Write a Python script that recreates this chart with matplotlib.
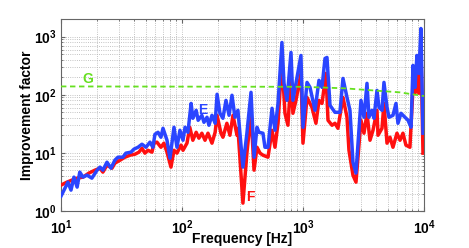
import numpy as np
import matplotlib
matplotlib.use("Agg")
import matplotlib.pyplot as plt

# curve E (blue)
freq_e = [10.0, 10.8, 11.4, 12.1, 12.8, 13.6, 14.3, 15.2, 16.4, 18.0,
          19.9, 21.0, 22.2, 24.0, 25.9, 27.9, 29.6, 32.5, 34.4, 37.9,
          40.1, 43.3, 46.7, 50.4, 54.4, 57.5, 59.8, 63.4, 67.0, 69.7,
          75.2, 79.6, 85.9, 90.9, 96.2, 102, 106, 112, 119, 123,
          131, 136, 146, 152, 161, 167, 177, 188, 195, 206,
          218, 231, 245, 259, 274, 290, 319, 344, 372, 394,
          417, 433, 467, 485, 514, 555, 587, 622, 670, 697,
          738, 796, 826, 875, 962, 1000, 1080, 1143, 1257, 1356,
          1436, 1521, 1579, 1672, 1838, 2021, 2141, 2311, 2445, 2589,
          2742, 3015, 3192, 3381, 3510, 3717, 3861, 4090, 4247, 4498,
          4670, 4948, 5136, 5543, 5871, 6096, 6457, 6969, 7381, 7818,
          8117, 8428, 8750, 9086, 9434, 9815]
imp_e = [1.8, 2.48, 3.14, 2.29, 3.83, 2.58, 4.67, 3.83, 4.14, 3.68,
         5.05, 5.69, 5.05, 6.92, 5.46, 7.5, 8.44, 8.44, 9.9, 10.3,
         11.6, 12.5, 14.1, 12.5, 15.3, 12.5, 20.9, 22.6, 18.6, 26.5,
         16.5, 8.1, 27.6, 12.5, 24.5, 16.5, 27.6, 22.6, 71, 39.4,
         54, 36.4, 44.3, 33.6, 41, 29.9, 44.3, 32.3, 102, 48,
         39.4, 80, 44.3, 98, 41, 54, 5.69, 21.8, 110, 8.44,
         27.6, 22.6, 21.8, 12.5, 12.5, 58.5, 24.5, 71, 792, 157,
         80, 534, 80, 157, 474, 27.6, 163, 134, 54, 177,
         134, 421, 438, 65.8, 49.9, 49.9, 191, 90, 54, 6.92,
         4.49, 80, 41, 157, 41, 54, 39.4, 119, 60.8, 54,
         163, 60.8, 41, 44.3, 71, 32.3, 48, 41, 36.4, 27.6,
         319, 134, 474, 233, 1377, 21.8]

# curve F (red)
freq_f = [10.0, 11.2, 12.3, 13.6, 15.2, 17.0, 19.1, 21.0, 22.2, 24.0,
          26.4, 27.9, 30.8, 33.8, 37.2, 40.9, 44.1, 46.7, 49.4, 52.3,
          56.5, 58.7, 62.1, 67.0, 70.9, 75.2, 81.1, 85.9, 90.9, 98.2,
          102, 110, 116, 123, 131, 138, 146, 155, 164, 177,
          188, 195, 210, 218, 235, 249, 264, 285, 290, 319,
          344, 372, 394, 417, 442, 467, 514, 555, 587, 622,
          670, 710, 751, 796, 826, 875, 962, 1000, 1080, 1186,
          1280, 1356, 1436, 1549, 1610, 1738, 1838, 1945, 2141, 2311,
          2399, 2589, 2742, 3015, 3192, 3381, 3580, 3790, 4090, 4169,
          4498, 4670, 4948, 5236, 5543, 5980, 6339, 6702, 7096, 7653,
          8117, 8428, 8750, 9086, 9434, 9815]
imp_f = [2.79, 3.14, 3.4, 3.68, 3.83, 4.49, 5.05, 5.46, 4.67, 6.15,
         5.46, 6.66, 7.5, 8.44, 9.13, 9.5, 10.3, 12.0, 9.9, 11.1,
         10.3, 14.7, 15.3, 12.5, 14.7, 10.3, 5.69, 11.1, 9.9, 13.6,
         11.1, 14.7, 27.6, 16.5, 22.6, 17.9, 21.8, 16.5, 21.8, 14.7,
         22.6, 44.3, 21.8, 18.6, 32.3, 20.1, 44.3, 20.1, 26.5, 1.37,
         9.9, 48, 5.05, 12.5, 9.9, 9.13, 8.44, 24.5, 12.5, 32.3,
         389, 48, 29.9, 199, 48, 80, 233, 14.7, 90, 60.8,
         32.3, 80, 71, 233, 36.4, 29.9, 32.3, 26.5, 90, 41,
         11.1, 4.14, 3.14, 36.4, 21.8, 48, 16.5, 24.5, 54, 20.1,
         26.5, 71, 14.7, 18.6, 12.5, 21.8, 16.5, 21.8, 13.6, 12.5,
         134, 106, 262, 106, 704, 9.9]

# reference line G (green dashed)
freq_g = [10, 1000, 2200, 6300, 10000]
imp_g = [139, 137, 129, 110, 95]

plt.rcParams['font.family'] = ['Liberation Sans', 'DejaVu Sans']
plt.rcParams['font.weight'] = 'bold'

fig = plt.figure(figsize=(4.69, 2.48), dpi=100)
ax = fig.add_axes([0.130, 0.149, 0.774, 0.774])

ax.plot(freq_f, imp_f, color='#ff1010', lw=2.5, zorder=3)
ax.plot(freq_e, imp_e, color='#2a45ff', lw=2.5, zorder=4)
ax.plot(freq_g, imp_g, color='#66e020', lw=1.3, ls=(0, (3, 2)), zorder=5)

ax.set_xscale('log')
ax.set_yscale('log')
ax.set_xlim(10, 10000)
ax.set_ylim(1, 2000)

# curve labels
ax.text(16.7, 190, 'G', color='#66e020', fontsize=10, fontweight='bold',
        ha='center', va='center', zorder=6)
ax.text(149, 54, 'E', color='#2a45ff', fontsize=10, fontweight='bold',
        ha='center', va='center', zorder=6)
ax.text(365, 1.75, 'F', color='#ff1010', fontsize=10, fontweight='bold',
        ha='center', va='center', zorder=6)

ax.grid(True, which='both', ls=':', color='#b0b0b0', lw=0.6)
ax.tick_params(which='both', direction='in', labelsize=10, top=True, right=True, color='#666666')
ax.tick_params(which='major', length=3)
ax.tick_params(which='minor', length=1.5)
ax.tick_params(axis='x', pad=5)
ax.tick_params(axis='y', pad=3)
for s in ax.spines.values():
    s.set_color('#666666')
    s.set_linewidth(0.8)

ax.set_xlabel('Frequency [Hz]', fontsize=10, fontweight='bold', labelpad=-3)
ax.set_ylabel('Improvement factor', fontsize=10, fontweight='bold', labelpad=0)

fig.savefig('out.png', dpi=100)
